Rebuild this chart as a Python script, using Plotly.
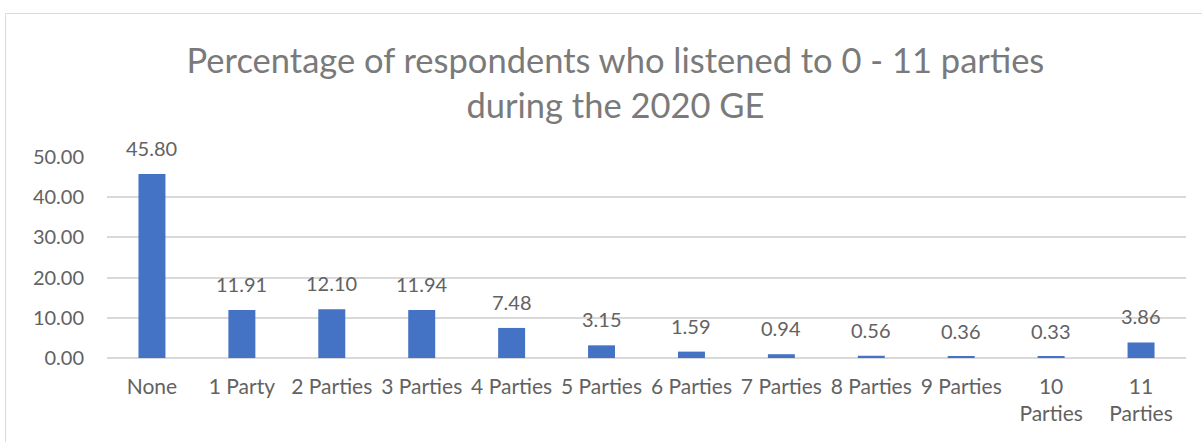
import plotly.graph_objects as go

categories = ["None", "1 Party", "2 Parties", "3 Parties", "4 Parties", "5 Parties",
              "6 Parties", "7 Parties", "8 Parties", "9 Parties", "10<br>Parties", "11<br>Parties"]
percentages = [45.80, 11.91, 12.10, 11.94, 7.48, 3.15, 1.59, 0.94, 0.56, 0.36, 0.33, 3.86]
y_ticks = [0, 10, 20, 30, 40, 50]

FONT = "Lato, 'Open Sans', sans-serif"
GREY = "#626262"

fig = go.Figure(go.Bar(
    x=categories,
    y=percentages,
    marker=dict(color="#4472C4", line=dict(width=0)),
    cliponaxis=False,
))

# value labels sitting above each bar
value_labels = [
    dict(x=c, y=v, text=f"{v:.2f}", showarrow=False, yanchor="bottom", yshift=12,
         font=dict(family=FONT, size=20, color=GREY))
    for c, v in zip(categories, percentages)
]

fig.update_layout(
    width=1202,
    height=442,
    margin=dict(l=106.5, r=15.5, t=157, b=84),
    paper_bgcolor="white",
    plot_bgcolor="white",
    bargap=0.7,
    showlegend=False,
    annotations=value_labels,
    title=dict(
        text="Percentage of respondents who listened to 0 - 11 parties<br>during the 2020 GE",
        x=0.512, xanchor="center",
        y=0.834, yanchor="middle",
        font=dict(family=FONT, size=34.5, color="#7a7a7a"),
    ),
    xaxis=dict(
        showgrid=False,
        showline=False,
        ticks="",
        ticklabelstandoff=14,
        tickfont=dict(family=FONT, size=21, color=GREY),
    ),
    yaxis=dict(
        range=[0, 50],
        tickvals=y_ticks,
        tickformat=".2f",
        showgrid=True,
        gridcolor="#d9d9d9",
        gridwidth=1.5,
        zeroline=True,
        zerolinecolor="#d9d9d9",
        zerolinewidth=1.5,
        showline=False,
        ticks="",
        ticklabelstandoff=22,
        tickfont=dict(family=FONT, size=20, color=GREY),
    ),
    shapes=[dict(
        type="rect", xref="paper", yref="paper",
        x0=(5 - 106.5) / 1080, x1=(1210 - 106.5) / 1080,
        y0=(358 - 450) / 201, y1=(358 - 13.5) / 201,
        line=dict(color="#d9d9d9", width=1),
        fillcolor="rgba(0,0,0,0)",
        layer="below",
    )],
)

fig.write_html("out.html")
